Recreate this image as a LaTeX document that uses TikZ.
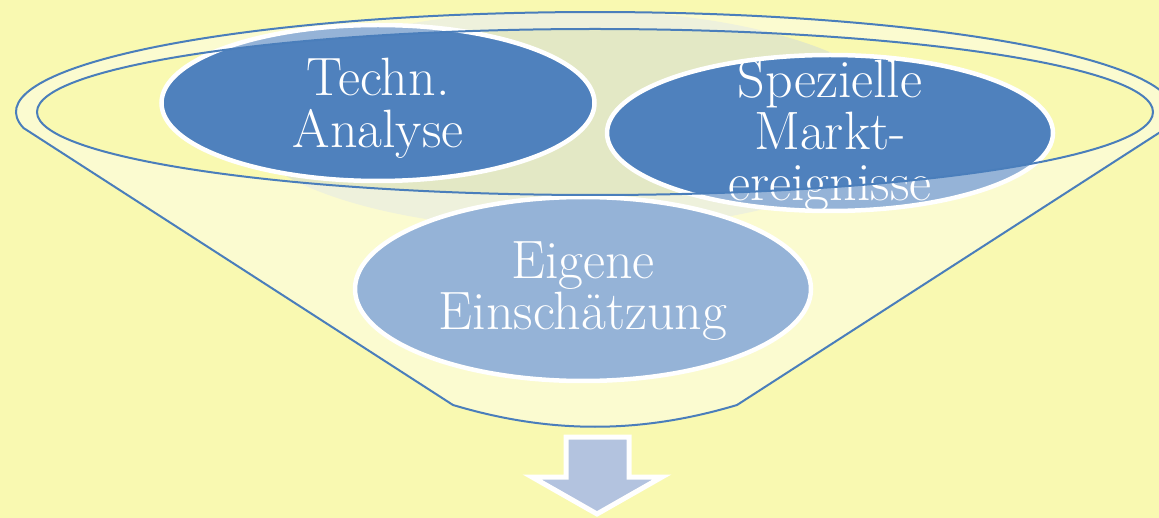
\documentclass[tikz,border=0pt]{standalone}
\usepackage{xcolor}
\usepackage{tikz}
\usetikzlibrary{calc}
\usetikzlibrary{shapes}
\usetikzlibrary{positioning}
\usetikzlibrary{shapes.geometric}

\definecolor{paper}{HTML}{F9F9B1}
\definecolor{darkbub}{HTML}{4F81BD}
\definecolor{rimline}{HTML}{4A7EBB}
\definecolor{funnelgrey}{HTML}{E3E8C5}
\definecolor{arrowfill}{HTML}{B3C3DF}

% outline of the funnel: top rim, both sides and the bottom
\newcommand{\funnelrim}{(23.5,128) arc[start angle=189.2, end angle=-9.2, x radius=579pt, y radius=100pt] -- (737,405) .. controls (640,434) and (550,434) .. (453,405) -- cycle}

\begin{document}
\begin{tikzpicture}[x=1pt, y=-1pt,
  bubble/.style={ellipse, draw=white, line width=4.5pt, fill=darkbub, inner sep=0pt},
  bubtext/.style={text=white, align=center, font=\fontsize{54}{51.5}\selectfont}]
\useasboundingbox (0,0) rectangle (1159,518);
\clip (0,0) rectangle (1159,518);
\fill [paper] (0,0) rectangle (1159,518);

% grey inside of the funnel
\begin{scope}
\clip \funnelrim;
\fill [funnelgrey] (570,120) ellipse [x radius=330pt, y radius=110pt];
\end{scope}

\node [bubble, minimum width=433pt, minimum height=156pt] (techn) at (378,103) {};
\node [bubble, minimum width=446pt, minimum height=156pt] (spez) at (830,133) {};
\node [bubble, minimum width=456pt, minimum height=184pt] (eigen) at (583,289) {};
\node [bubtext] (technlbl) at (378,108) {Techn.\\Analyse};
\node [bubtext] (spezlbl) at (830,136) {Spezielle\\Markt-\\ereignisse};
\node [bubtext] (eigenlbl) at (583,291) {Eigene\\Einschätzung};

% funnel body in front
\path [fill=white, fill opacity=0.4, draw=rimline, line width=2pt, even odd rule]
  \funnelrim (595,112) ellipse [x radius=558pt, y radius=83pt];

% arrow out of the funnel
\draw [white, line width=5pt, fill=arrowfill, line join=miter]
  (566,437) -- (629,437) -- (629,477) -- (662,477) -- (597,514) -- (532,477) -- (566,477) -- cycle;
\end{tikzpicture}
\end{document}
